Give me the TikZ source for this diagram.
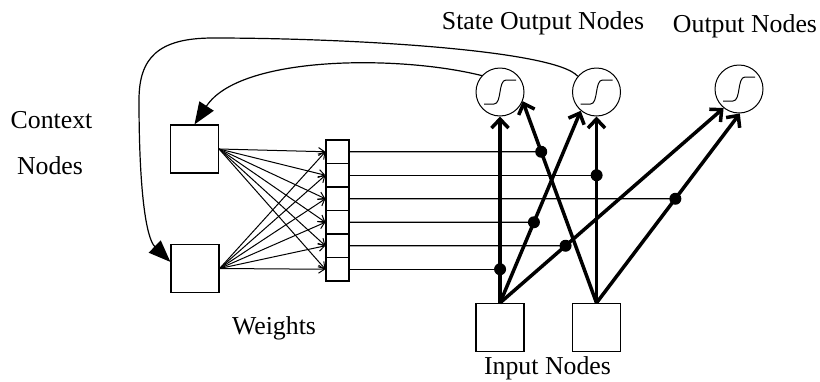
\documentclass[tikz,border=0pt]{standalone}
\usepackage{fontspec}
\setmainfont{Liberation Serif}
\usetikzlibrary{arrows.meta,calc}
\begin{document}
\begin{tikzpicture}[x=1pt,y=-1pt,
  box/.style={draw,line width=1.2pt,minimum width=48pt,minimum height=48pt,inner sep=0pt},
  cell/.style={draw,line width=1.2pt,minimum width=23pt,minimum height=23.5pt,inner sep=0pt},
  unit/.style={draw,line width=1pt,circle,minimum size=48pt,inner sep=0pt},
  hline/.style={line width=1.1pt},
  fan/.style={line width=1pt,-{Straight Barb[length=6pt,width=8pt]}},
  inarrow/.style={line width=3.5pt,-{Straight Barb[length=9pt,width=17pt]}},
  feedback/.style={line width=1.2pt,-{Triangle[length=22pt,width=17pt]}},
  dot/.style={circle,fill,inner sep=0pt,minimum size=12pt},
  lbl/.style={font=\fontsize{25.8}{30}\selectfont,anchor=base,inner sep=0pt}
]
\useasboundingbox (0,0) rectangle (820,381);

% labels
\node[lbl] (lctx) at (51.5,128) {Context};
\node[lbl] (lnod) at (50,174) {Nodes};
\node[lbl] (lw) at (274,334) {Weights};
\node[lbl] (lin) at (547.5,374.5) {Input Nodes};
\node[lbl] (lso) at (543,29.5) {State Output Nodes};
\node[lbl] (lout) at (745,32.5) {Output Nodes};

% context nodes
\node[box] (cx1) at (194.5,149) {};
\node[box] (cx2) at (195,268.5) {};

% weights column
\foreach \i in {1,...,6}
  \node[cell] (w\i) at (337.5,{128.25+23.5*\i}) {};

% output units
\node[unit] (c1) at (500,92) {};
\node[unit] (c2) at (596.5,92) {};
\node[unit] (c3) at (739,89) {};
\foreach \c in {c1,c2,c3}
  \draw[line width=1pt] ($(\c)+(-16,12)$) -- ++(10,0)
     .. controls +(8,0) and +(-8,0) .. ++(12,-24) -- ++(10,0);

% input nodes
\node[box] (in1) at (500,327.5) {};
\node[box] (in2) at (596.5,327.5) {};

% fan-out arrows
\foreach \i in {1,...,6} {
  \draw[fan] (cx1.east) -- (w\i.west);
  \draw[fan] (cx2.east) -- (w\i.west);
}

% coordinates for the thick connectors
\coordinate (A1) at (in1.north);
\coordinate (A2) at (in2.north);
\coordinate (T11) at (c1.-90);
\coordinate (T12) at (c2.-130);
\coordinate (T13) at (c3.-129);
\coordinate (T21) at (c1.-22);
\coordinate (T22) at (c2.-90);
\coordinate (T23) at (c3.-88);
\foreach \i in {1,...,6} {
  \coordinate (W\i) at (w\i.east);
  \coordinate (F\i) at ($(w\i.east)+(450,0)$);
}

% weight dots on the connectors
\coordinate (p1) at (intersection of A2--T21 and W1--F1);
\coordinate (p2) at (intersection of A2--T22 and W2--F2);
\coordinate (p3) at (intersection of A2--T23 and W3--F3);
\coordinate (p4) at (intersection of A1--T12 and W4--F4);
\coordinate (p5) at (intersection of A1--T13 and W5--F5);
\coordinate (p6) at (intersection of A1--T11 and W6--F6);
\foreach \i in {1,...,6}
  \draw[hline] (W\i) -- (p\i);

% thick connectors
\draw[inarrow] (A1) -- (T11);
\draw[inarrow] (A1) -- (T12);
\draw[inarrow] (A1) -- (T13);
\draw[inarrow] (A2) -- (T21);
\draw[inarrow] (A2) -- (T22);
\draw[inarrow] (A2) -- (T23);

\foreach \i in {1,...,6}
  \node[dot] (d\i) at (p\i) {};

% feedback loops
\draw[feedback] (c1.138) .. controls (400,55) and (240,55) .. (cx1.north);
\draw[feedback] (c2.140) .. controls (555,50) and (350,38) .. (213,38)
   .. controls (158,38) and (139,58) .. (139,100)
   .. controls (139,190) and (146,238) .. (cx2.165);
\end{tikzpicture}
\end{document}
